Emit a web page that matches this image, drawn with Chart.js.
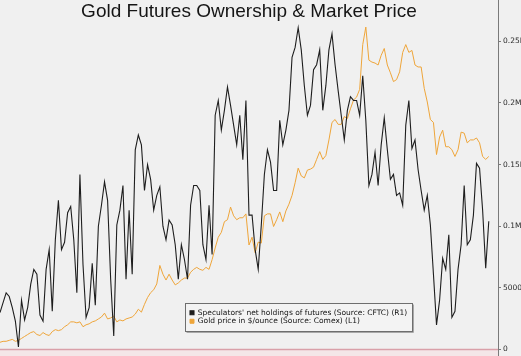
<!DOCTYPE html>
<html>
<head>
<meta charset="utf-8">
<script src="https://cdn.jsdelivr.net/npm/chart.js@4.4.1/dist/chart.umd.min.js"></script>
<style>
  html, body { margin: 0; padding: 0; background: #f0f0f0; }
  #wrap { width: 521px; height: 356px; overflow: hidden; }
</style>
</head>
<body>
<div id="wrap"><canvas id="c" width="521" height="356"></canvas></div>
<script>
// ---- data (monthly, starting Oct 2001) ----
const START_YEAR = 2001;
const START_MONTH_INDEX = 9; // October (0-based)
const MONTH_SLOTS = 163;

const seriesNames = [
  "Speculators' net holdings of futures (Source: CFTC) (R1)",
  "Gold price in $/ounce (Source: Comex) (L1)"
];

// Speculators' net holdings of futures (contracts), right axis
const netHoldings = [
  30000, 38000, 46000, 43000, 34000, 23000, 2000, 40000, 24000, 34000,
  53000, 65000, 61000, 28000, 23000, 65000, 81000, 31000, 89000, 121000,
  81000, 87000, 111000, 116000, 89000, 46000, 142000, 69000, 26000, 34000,
  70000, 36000, 100000, 117000, 136000, 121000, 57000, 11000, 101000, 113000,
  133000, 57000, 113000, 61000, 162000, 174000, 166000, 129000, 150000, 138000,
  113000, 125000, 132000, 100000, 89000, 105000, 101000, 85000, 57000, 85000,
  73000, 57000, 117000, 133000, 133000, 129000, 85000, 73000, 117000, 77000,
  190000, 202000, 178000, 194000, 213000, 198000, 182000, 166000, 190000, 154000,
  202000, 109000, 109000, 81000, 65000, 101000, 142000, 162000, 152000, 129000,
  129000, 186000, 166000, 178000, 194000, 237000, 245000, 261000, 243000, 214000,
  190000, 198000, 227000, 231000, 243000, 194000, 214000, 243000, 256000, 231000,
  210000, 190000, 170000, 194000, 205000, 202000, 202000, 190000, 222000, 186000,
  133000, 142000, 160000, 133000, 166000, 188000, 162000, 138000, 142000, 125000,
  127000, 117000, 182000, 202000, 163000, 170000, 146000, 129000, 113000, 125000,
  101000, 61000, 20000, 40000, 74000, 65000, 93000, 26000, 31000, 65000,
  85000, 133000, 85000, 89000, 109000, 151000, 147000, 113000, 66000, 104000
];

// Gold price $/oz, left axis (hidden)
const goldPrice = [
  280, 285, 285, 290, 295, 285, 290, 300, 310, 320,
  330, 335, 320, 315, 330, 320, 315, 335, 345, 340,
  345, 360, 370, 385, 385, 380, 385, 360, 370, 375,
  385, 390, 400, 410, 430, 400, 405, 415, 385, 395,
  390, 400, 405, 410, 425, 450, 435, 475, 510, 535,
  550, 580, 675, 630, 600, 630, 600, 575, 585, 600,
  610, 610, 640, 655, 665, 655, 650, 665, 655, 705,
  765, 820, 845, 900, 910, 975, 930, 910, 920, 920,
  940, 780, 820, 740, 795, 790, 930, 940, 940, 875,
  910, 950, 900, 955, 990, 1035, 1100, 1175, 1135, 1125,
  1165, 1170, 1180, 1220, 1260, 1220, 1240, 1320, 1410, 1425,
  1400, 1400, 1440, 1430, 1480, 1525, 1540, 1580, 1810, 1900,
  1730, 1720, 1715, 1705, 1755, 1790, 1705, 1665, 1620, 1630,
  1670, 1770, 1810, 1770, 1780, 1705, 1695, 1695, 1585, 1515,
  1425, 1410, 1245, 1335, 1370, 1285, 1285, 1270, 1235, 1270,
  1360, 1355, 1305, 1320, 1320, 1330, 1305, 1235, 1220, 1235
];

const holdingsTickValues = [0, 50000, 100000, 150000, 200000, 250000];
const holdingsTickLabels = ['0', '50000', '0.1M', '0.15M', '0.2M', '0.25M'];

const months = [];
for (let i = 0; i < MONTH_SLOTS; i++) {
  const m = START_MONTH_INDEX + i;
  months.push((START_YEAR + Math.floor(m / 12)) + '-' + String(m % 12 + 1).padStart(2, '0'));
}

// ---- decorations ----
const decor = {
  id: 'decor',
  afterLayout(chart) {
    const lg = chart.legend;
    if (!lg) return;
    lg.left = 189; lg.top = 308;
    lg.right = lg.left + lg.width;
    lg.bottom = lg.top + 22;
  },
  beforeDraw(chart) {
    const { ctx, chartArea, height } = chart;
    ctx.save();
    // pink band below baseline
    ctx.fillStyle = '#f4e6e8';
    ctx.fillRect(0, chartArea.bottom, chartArea.right, height - chartArea.bottom);
    ctx.strokeStyle = '#d9a0a9';
    ctx.lineWidth = 1.5;
    ctx.beginPath();
    ctx.moveTo(0, chartArea.bottom);
    ctx.lineTo(chartArea.right, chartArea.bottom);
    ctx.stroke();
    // right axis line continues to the canvas edges
    ctx.strokeStyle = '#7a7a7a';
    ctx.lineWidth = 1;
    ctx.beginPath();
    ctx.moveTo(Math.round(chartArea.right) + 0.5, 0);
    ctx.lineTo(Math.round(chartArea.right) + 0.5, chartArea.top);
    ctx.moveTo(Math.round(chartArea.right) + 0.5, chartArea.bottom);
    ctx.lineTo(Math.round(chartArea.right) + 0.5, height);
    ctx.stroke();
    // legend frame
    ctx.fillStyle = '#f3f3f3';
    ctx.fillRect(185.5, 303.5, 227, 28);
    ctx.strokeStyle = '#a8a8a8';
    ctx.beginPath();
    ctx.moveTo(186.5, 332.5); ctx.lineTo(413.5, 332.5); ctx.lineTo(413.5, 304.5);
    ctx.stroke();
    ctx.strokeStyle = '#6e6e6e';
    ctx.strokeRect(185.5, 303.5, 227, 28);
    ctx.restore();
  }
};

new Chart(document.getElementById('c'), {
  type: 'line',
  data: {
    labels: months,
    datasets: [
      {
        label: seriesNames[0],
        data: netHoldings,
        yAxisID: 'y1',
        borderColor: '#1e1e1e',
        backgroundColor: '#1e1e1e',
        borderWidth: 1.1,
        pointRadius: 0,
        tension: 0
      },
      {
        label: seriesNames[1],
        data: goldPrice,
        yAxisID: 'y',
        borderColor: '#eea53a',
        backgroundColor: '#eea53a',
        borderWidth: 1,
        pointRadius: 0,
        tension: 0
      }
    ]
  },
  options: {
    responsive: false,
    animation: false,
    devicePixelRatio: 1,
    layout: { padding: { left: 0, right: 0, top: 0, bottom: 6 } },
    plugins: {
      title: {
        display: true,
        text: 'Gold Futures Ownership & Market Price',
        fullSize: false,
        color: '#151515',
        font: { family: 'Liberation Sans', size: 19, weight: 'normal' },
        padding: { top: 0, bottom: 0 }
      },
      legend: {
        display: true,
        position: 'chartArea',
        align: 'start',
        labels: {
          boxWidth: 4,
          boxHeight: 4,
          padding: 1,
          color: '#111',
          font: { family: 'DejaVu Sans', size: 7.5 }
        }
      },
      tooltip: { enabled: false }
    },
    scales: {
      x: {
        display: false,
        offset: false
      },
      y: {
        display: false,
        position: 'left',
        min: 243,
        max: 1922
      },
      y1: {
        position: 'right',
        min: 0,
        max: 265000,
        border: { display: true, color: '#7a7a7a', width: 1 },
        grid: { display: true, drawOnChartArea: false, drawTicks: true, tickLength: 3, color: '#7a7a7a' },
        ticks: {
          padding: 2,
          color: '#2a2a2a',
          font: { family: 'DejaVu Sans', size: 7.5 },
          callback: (value) => {
            const idx = holdingsTickValues.indexOf(value);
            return idx >= 0 ? holdingsTickLabels[idx] : '';
          }
        },
        afterBuildTicks: (scale) => {
          scale.ticks = holdingsTickValues.map(v => ({ value: v }));
        },
        afterFit: (scale) => { scale.width = 23; }
      }
    }
  },
  plugins: [decor]
});
</script>
</body>
</html>
